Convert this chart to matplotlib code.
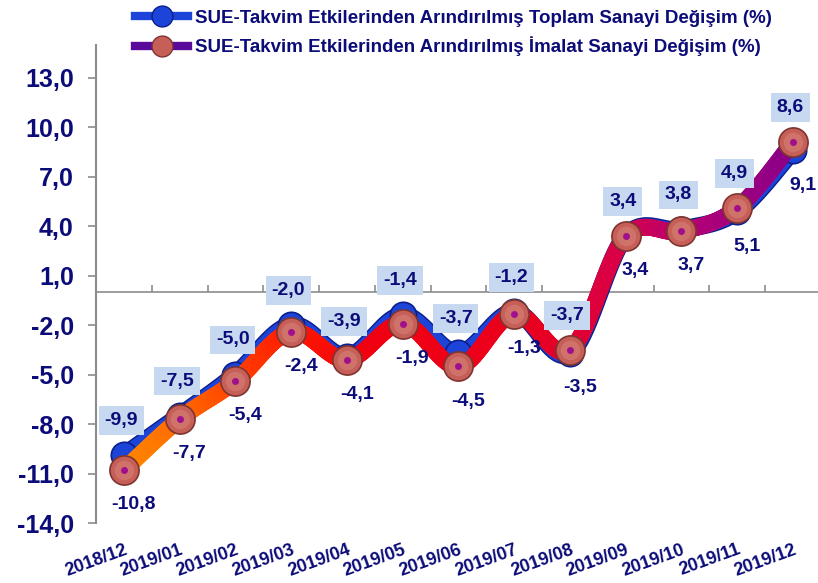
import numpy as np
import matplotlib

matplotlib.use("Agg")
import matplotlib.pyplot as plt  # noqa: E402
from matplotlib.collections import LineCollection  # noqa: E402
from matplotlib.colors import LinearSegmentedColormap  # noqa: E402
from matplotlib.lines import Line2D  # noqa: E402
import matplotlib.patheffects as pe  # noqa: E402

plt.rcParams["font.family"] = ["Liberation Sans", "DejaVu Sans"]

months = ["2018/12", "2019/01", "2019/02", "2019/03", "2019/04", "2019/05", "2019/06",
          "2019/07", "2019/08", "2019/09", "2019/10", "2019/11", "2019/12"]
toplam = [-9.9, -7.5, -5.0, -2.0, -3.9, -1.4, -3.7, -1.2, -3.7, 3.4, 3.8, 4.9, 8.6]
imalat = [-10.8, -7.7, -5.4, -2.4, -4.1, -1.9, -4.5, -1.3, -3.5, 3.4, 3.7, 5.1, 9.1]
yticks = [-14, -11, -8, -5, -2, 1, 4, 7, 10, 13]

lbl_toplam = "SUE-Takvim Etkilerinden Arındırılmış Toplam Sanayi Değişim (%)"
lbl_imalat = "SUE-Takvim Etkilerinden Arındırılmış İmalat Sanayi Değişim (%)"

NAVY = "#0c0c78"
BLUE = "#1d44d8"
BLUE_DK = "#0a1f8a"
GRAD = LinearSegmentedColormap.from_list(
    "imalat", ["#ff8c00", "#ff5a00", "#ff1a00", "#f00010", "#ee0018", "#e80020",
               "#d8004a", "#b00078", "#8a0088"])


def smooth(x, y, n=40):
    """Catmull-Rom through the points (Excel-style smoothed line)."""
    p = np.column_stack([x, y]).astype(float)
    p = np.vstack([p[0], p, p[-1]])
    out = []
    t = np.linspace(0, 1, n)[:, None]
    for i in range(1, len(p) - 2):
        p0, p1, p2, p3 = p[i - 1], p[i], p[i + 1], p[i + 2]
        seg = 0.5 * ((2 * p1) + (-p0 + p2) * t + (2 * p0 - 5 * p1 + 4 * p2 - p3) * t ** 2
                     + (-p0 + 3 * p1 - 3 * p2 + p3) * t ** 3)
        out.append(seg if i == 1 else seg[1:])
    s = np.vstack(out)
    return s[:, 0], s[:, 1]


def fmt(v):
    return f"{v:.1f}".replace(".", ",")


fig = plt.figure(figsize=(8.18, 5.83), dpi=100)
ax = fig.add_axes([0.1174, 0.1029, 0.8826, 0.8199])
x = np.arange(len(months))

# toplam: blue smoothed line with dark edge
sx, sy = smooth(x, toplam)
ax.plot(sx, sy, color=BLUE, lw=11, solid_capstyle="round", zorder=3,
        path_effects=[pe.Stroke(linewidth=13, foreground=BLUE_DK), pe.Normal()])
ax.plot(x, toplam, ls="none", marker="o", ms=19, mfc=BLUE, mec=BLUE_DK, mew=1.2, zorder=4)

# imalat: gradient smoothed line
ix, iy = smooth(x, imalat)
pts = np.column_stack([ix, iy]).reshape(-1, 1, 2)
segs = np.concatenate([pts[:-1], pts[1:]], axis=1)
lc = LineCollection(segs, colors=GRAD((ix[:-1] + ix[1:]) / 2 / x[-1]), linewidths=12,
                    capstyle="round", zorder=5)
ax.add_collection(lc)
ax.plot(x, imalat, ls="none", marker="o", ms=21, mfc="#c65f58", mec="#7e3530", mew=1.2, zorder=6)
ax.plot(x, imalat, ls="none", marker="o", ms=14, mfc="#d47c73", mec="none", alpha=0.7, zorder=6)
ax.plot(x, imalat, ls="none", marker="o", ms=5, mfc="#a0108c", mec="none", zorder=7)

# data labels
for xi, a, b in zip(x, toplam, imalat):
    ax.annotate(fmt(a), (xi, max(a, b)), xytext=(-2, 25), textcoords="offset points",
                ha="center", va="center", fontsize=14, fontweight="bold", color=NAVY,
                bbox=dict(boxstyle="square,pad=0.3", fc="#c6d9f1", ec="none"), zorder=8)
    ax.annotate(fmt(b), (xi, min(a, b)), xytext=(7, -25), textcoords="offset points",
                ha="center", va="center", fontsize=14, fontweight="bold", color=NAVY, zorder=8)

# zero line with category-boundary ticks
ax.axhline(0, color="#8c8c8c", lw=1.2, zorder=1)
bounds = x[:-1] + 0.5
ax.plot(bounds, np.zeros_like(bounds), ls="none", marker=2, ms=5, mew=1.2,
        color="#8c8c8c", zorder=1)

ax.set_xlim(-0.5, 12.45)
ax.set_ylim(-14, 15)
ax.set_yticks(yticks)
ax.set_yticklabels([fmt(v) for v in yticks], fontsize=18, fontweight="bold", color=NAVY)
ax.tick_params(axis="y", direction="out", length=6, width=1.2, color="#8c8c8c", pad=10)
ax.set_xticks(x)
ax.set_xticklabels(months, rotation=20, ha="right", va="top", rotation_mode="anchor",
                   fontsize=13, fontweight="bold", color=NAVY)
ax.tick_params(axis="x", length=0, pad=13)
for s in ("top", "right", "bottom"):
    ax.spines[s].set_visible(False)
ax.spines["left"].set_color("#8c8c8c")
ax.spines["left"].set_linewidth(1.5)

handles = [
    Line2D([], [], color=BLUE, lw=6, marker="o", ms=15, mfc=BLUE, mec=BLUE_DK),
    Line2D([], [], color="#5a0a9a", lw=6, marker="o", ms=15, mfc="#c65f58", mec="#7e3530"),
]
leg = fig.legend(handles, [lbl_toplam, lbl_imalat], loc="upper left",
                 bbox_to_anchor=(0.145, 1.012), frameon=False, handlelength=2.8,
                 handletextpad=0.35, labelspacing=0.5, prop=dict(size=13.5, weight="bold"))
for t in leg.get_texts():
    t.set_color(NAVY)

fig.savefig("out.png", dpi=100)
